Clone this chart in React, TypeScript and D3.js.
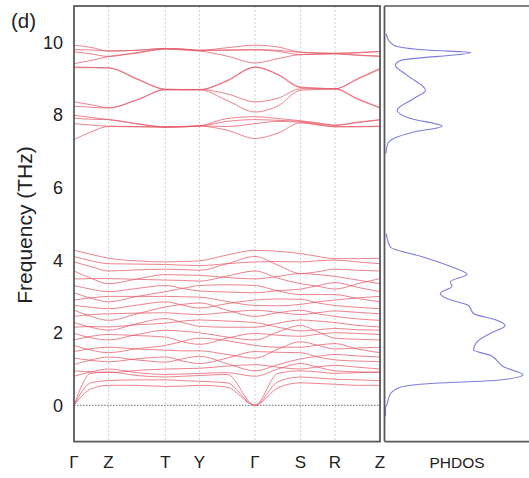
import React from "react";
import * as d3 from "d3";

// k-path: high-symmetry points and their path coordinates
const kLabels = ["Γ", "Z", "T", "Y", "Γ", "S", "R", "Z"];
const kTicks = [0, 0.345, 0.915, 1.255, 1.81, 2.265, 2.61, 3.06];
// sample k positions (high-symmetry points + segment midpoints)
const kPath = [0, 0.17, 0.345, 0.63, 0.915, 1.085, 1.255, 1.53, 1.81, 2.04, 2.265, 2.44, 2.61, 2.835, 3.06];

const freqTicks = [0, 2, 4, 6, 8, 10];

// phonon branches (THz) sampled at kPath
const acousticBands = [
  [0, 0.45, 0.55, 0.55, 0.52, 0.53, 0.55, 0.50, 0, 0.48, 0.62, 0.60, 0.58, 0.55, 0.55],
  [0, 0.62, 0.68, 0.70, 0.70, 0.68, 0.66, 0.62, 0, 0.65, 0.78, 0.75, 0.72, 0.70, 0.68],
  [0, 0.88, 0.92, 0.82, 0.78, 0.80, 0.82, 0.85, 0, 0.88, 0.95, 0.92, 0.88, 0.90, 0.92],
];

const lowOpticalBands = [
  [0.80, 0.92, 1.00, 0.90, 0.85, 0.86, 0.88, 0.90, 0.80, 1.00, 1.15, 1.05, 0.95, 0.92, 0.90],
  [0.95, 0.92, 0.90, 0.96, 1.00, 1.01, 1.02, 1.08, 1.12, 1.05, 1.00, 1.06, 1.10, 1.05, 1.00],
  [1.12, 1.25, 1.33, 1.25, 1.19, 1.28, 1.35, 1.15, 0.95, 1.12, 1.28, 1.35, 1.40, 1.36, 1.33],
  [1.30, 1.24, 1.20, 1.28, 1.33, 1.22, 1.15, 1.30, 1.48, 1.46, 1.45, 1.33, 1.25, 1.22, 1.20],
  [1.48, 1.56, 1.60, 1.55, 1.52, 1.50, 1.50, 1.40, 1.30, 1.55, 1.75, 1.65, 1.55, 1.58, 1.60],
  [1.65, 1.52, 1.45, 1.56, 1.65, 1.76, 1.85, 1.78, 1.65, 1.60, 1.60, 1.66, 1.70, 1.55, 1.45],
  [1.80, 1.90, 1.95, 1.92, 1.88, 1.75, 1.68, 1.85, 1.98, 1.93, 1.90, 1.96, 2.00, 1.98, 1.95],
  [1.98, 1.86, 1.80, 1.95, 2.07, 2.04, 2.00, 1.88, 1.80, 2.02, 2.20, 2.02, 1.85, 1.82, 1.80],
  [2.15, 2.17, 2.16, 2.22, 2.26, 2.32, 2.35, 2.32, 2.28, 2.15, 2.05, 2.08, 2.12, 2.08, 2.07],
  [2.28, 2.15, 2.07, 2.25, 2.39, 2.28, 2.18, 2.15, 2.15, 2.26, 2.35, 2.32, 2.28, 2.20, 2.16],
  [2.45, 2.50, 2.52, 2.54, 2.55, 2.52, 2.50, 2.56, 2.62, 2.56, 2.50, 2.55, 2.60, 2.56, 2.52],
  [2.62, 2.45, 2.34, 2.52, 2.71, 2.78, 2.82, 2.62, 2.45, 2.55, 2.62, 2.52, 2.45, 2.38, 2.34],
  [2.75, 2.70, 2.66, 2.76, 2.85, 2.76, 2.68, 2.80, 2.90, 2.93, 2.92, 2.82, 2.75, 2.70, 2.66],
  [2.90, 2.96, 3.00, 3.00, 3.00, 2.99, 2.98, 2.86, 2.75, 2.74, 2.78, 2.85, 2.90, 2.96, 3.00],
  [3.10, 2.95, 2.85, 3.00, 3.13, 3.22, 3.30, 3.32, 3.30, 3.15, 3.05, 3.05, 3.05, 2.94, 2.85],
  [3.30, 3.20, 3.13, 3.22, 3.30, 3.22, 3.15, 3.12, 3.10, 3.16, 3.20, 3.30, 3.38, 3.25, 3.13],
  [3.48, 3.49, 3.49, 3.47, 3.45, 3.44, 3.42, 3.56, 3.70, 3.50, 3.35, 3.28, 3.20, 3.35, 3.49],
  [3.70, 3.50, 3.35, 3.48, 3.60, 3.59, 3.58, 3.52, 3.48, 3.55, 3.63, 3.60, 3.55, 3.45, 3.35],
  [3.95, 3.82, 3.70, 3.73, 3.75, 3.74, 3.72, 3.90, 4.10, 3.86, 3.63, 3.68, 3.75, 3.72, 3.70],
  [4.10, 3.98, 3.90, 3.89, 3.88, 3.86, 3.85, 3.90, 3.95, 3.96, 3.95, 3.98, 4.00, 3.95, 3.90],
  [4.27, 4.16, 4.05, 3.98, 3.95, 3.96, 3.98, 4.14, 4.27, 4.24, 4.18, 4.10, 4.04, 4.04, 4.05],
];

const highOpticalBands = [
  [9.92, 9.86, 9.76, 9.78, 9.83, 9.82, 9.78, 9.85, 9.92, 9.87, 9.73, 9.71, 9.70, 9.72, 9.75],
  [9.80, 9.79, 9.76, 9.78, 9.83, 9.81, 9.78, 9.79, 9.80, 9.78, 9.72, 9.70, 9.69, 9.71, 9.74],
  [9.74, 9.68, 9.61, 9.72, 9.82, 9.80, 9.77, 9.78, 9.79, 9.75, 9.66, 9.68, 9.69, 9.65, 9.62],
  [9.41, 9.50, 9.61, 9.70, 9.81, 9.79, 9.76, 9.62, 9.43, 9.55, 9.66, 9.67, 9.68, 9.64, 9.61],
  [9.32, 9.31, 9.30, 9.00, 8.71, 8.70, 8.70, 8.95, 9.32, 9.12, 8.77, 8.74, 8.72, 9.00, 9.28],
  [9.30, 9.30, 9.29, 8.98, 8.70, 8.69, 8.69, 8.93, 9.31, 9.10, 8.75, 8.73, 8.72, 8.98, 9.26],
  [8.36, 8.28, 8.20, 8.42, 8.70, 8.70, 8.70, 8.58, 8.36, 8.46, 8.72, 8.72, 8.72, 8.45, 8.20],
  [8.24, 8.21, 8.19, 8.41, 8.69, 8.69, 8.69, 8.40, 8.08, 8.25, 8.68, 8.70, 8.71, 8.43, 8.19],
  [7.99, 7.93, 7.87, 7.76, 7.67, 7.68, 7.70, 7.90, 7.95, 7.90, 7.84, 7.78, 7.72, 7.80, 7.87],
  [7.91, 7.88, 7.87, 7.75, 7.66, 7.67, 7.69, 7.82, 7.87, 7.85, 7.82, 7.76, 7.71, 7.79, 7.86],
  [7.76, 7.72, 7.69, 7.68, 7.67, 7.68, 7.70, 7.68, 7.76, 7.82, 7.80, 7.74, 7.68, 7.68, 7.69],
  [7.32, 7.53, 7.68, 7.67, 7.66, 7.67, 7.69, 7.58, 7.35, 7.50, 7.78, 7.72, 7.67, 7.67, 7.68],
];

// phonon density of states: low-frequency group and high-frequency group
const dosLowFreq = [
  -0.3, -0.05, 0, 0.32, 0.5, 0.6, 0.69, 0.84, 1.06, 1.19, 1.38, 1.52, 1.74, 1.98, 2.2, 2.34,
  2.53, 2.75, 2.94, 3.08, 3.28, 3.4, 3.61, 3.81, 4.08, 4.36, 4.73,
];
const dosLowValue = [
  0, 0, 0.007, 0.033, 0.1, 0.3, 0.745, 0.92, 0.79, 0.755, 0.7, 0.589, 0.61, 0.7, 0.8, 0.745,
  0.589, 0.555, 0.41, 0.367, 0.445, 0.433, 0.545, 0.445, 0.255, 0.033, 0.005,
];
const dosHighFreq = [
  6.94, 7.21, 7.35, 7.53, 7.69, 7.9, 8.13, 8.45, 8.68, 9.09, 9.37, 9.5, 9.72, 9.78, 9.92, 10.1, 10.24,
];
const dosHighValue = [
  0.003, 0.015, 0.055, 0.19, 0.378, 0.167, 0.078, 0.19, 0.267, 0.145, 0.067, 0.1, 0.57, 0.3, 0.055, 0.015, 0.005,
];

const FONT = "'Liberation Sans', Arial, Helvetica, sans-serif";

export default function App() {
  const W = 529;
  const H = 478;
  const left = 74;
  const right = 380;
  const top = 6;
  const bottom = 441.6;
  const dosLeft = 384.5;

  const x = d3.scaleLinear().domain([0, 3.06]).range([left, right]);
  const y = d3.scaleLinear().domain([-1, 11]).range([bottom, top]);
  const xd = d3.scaleLinear().domain([0, 1]).range([385.5, 535]);

  const bandLine = d3
    .line<number>()
    .x((_, i) => x(kPath[i]))
    .y((v) => y(v))
    .curve(d3.curveMonotoneX);

  const allBands = [...acousticBands, ...lowOpticalBands, ...highOpticalBands];

  const dosLine = d3
    .line<{ f: number; v: number }>()
    .x((d) => xd(d.v))
    .y((d) => y(d.f))
    .curve(d3.curveMonotoneY);
  const dosLow = dosLowFreq.map((f, i) => ({ f, v: dosLowValue[i] }));
  const dosHigh = dosHighFreq.map((f, i) => ({ f, v: dosHighValue[i] }));

  return (
    <svg
      width={W}
      height={H}
      style={{ position: "absolute", left: 0, top: 0, display: "block", background: "#fff" }}
    >
      <defs>
        <clipPath id="bandClip">
          <rect x={left} y={top} width={right - left} height={bottom - top} />
        </clipPath>
        <clipPath id="dosClip">
          <rect x={dosLeft} y={top} width={W - dosLeft} height={bottom - top} />
        </clipPath>
      </defs>

      {/* vertical grid at high-symmetry points */}
      {kTicks.slice(1, -1).map((k, i) => (
        <line
          key={"g" + i}
          x1={x(k)}
          x2={x(k)}
          y1={top}
          y2={bottom}
          stroke="#d4d4d4"
          strokeWidth={1}
          strokeDasharray="2,2"
        />
      ))}

      {/* zero-frequency line */}
      <line
        x1={left}
        x2={right}
        y1={y(0)}
        y2={y(0)}
        stroke="#8a8a8a"
        strokeWidth={1.2}
        strokeDasharray="1.5,1.5"
      />

      {/* bands */}
      <g clipPath="url(#bandClip)">
        {allBands.map((b, i) => (
          <path
            key={"b" + i}
            d={bandLine(b) || ""}
            fill="none"
            stroke="#e65c6a"
            strokeWidth={0.9}
            strokeOpacity={0.85}
          />
        ))}
      </g>

      {/* DOS */}
      <g clipPath="url(#dosClip)">
        <path d={dosLine(dosLow) || ""} fill="none" stroke="#7d7ddc" strokeWidth={1.1} />
        <path d={dosLine(dosHigh) || ""} fill="none" stroke="#7d7ddc" strokeWidth={1.1} />
      </g>

      {/* frames */}
      <rect
        x={left}
        y={top}
        width={right - left}
        height={bottom - top}
        fill="none"
        stroke="#5a5a5a"
        strokeWidth={1.8}
      />
      <line x1={dosLeft} x2={dosLeft} y1={top} y2={bottom} stroke="#5a5a5a" strokeWidth={1.8} />
      <line x1={dosLeft} x2={W + 2} y1={top} y2={top} stroke="#5a5a5a" strokeWidth={1.6} />
      <line x1={dosLeft} x2={W + 2} y1={bottom} y2={bottom} stroke="#5a5a5a" strokeWidth={1.6} />

      {/* y tick labels */}
      {freqTicks.map((t) => (
        <text
          key={"yt" + t}
          x={63}
          y={y(t) + 6.5}
          textAnchor="end"
          fontFamily={FONT}
          fontSize={18}
          fill="#222"
        >
          {t}
        </text>
      ))}

      {/* y title */}
      <text
        transform={`translate(31.5, 225) rotate(-90)`}
        textAnchor="middle"
        fontFamily={FONT}
        fontSize={21}
        fill="#222"
      >
        Frequency (THz)
      </text>

      {/* k labels */}
      {kTicks.map((k, i) => (
        <text
          key={"xl" + i}
          x={x(k)}
          y={468}
          textAnchor="middle"
          fontFamily={FONT}
          fontSize={17}
          fill="#222"
        >
          {kLabels[i]}
        </text>
      ))}

      <text x={457} y={468} textAnchor="middle" fontFamily={FONT} fontSize={15.5} fill="#222">
        PHDOS
      </text>

      <text x={11} y={28} fontFamily={FONT} fontSize={20.5} fill="#222">
        (d)
      </text>
    </svg>
  );
}
